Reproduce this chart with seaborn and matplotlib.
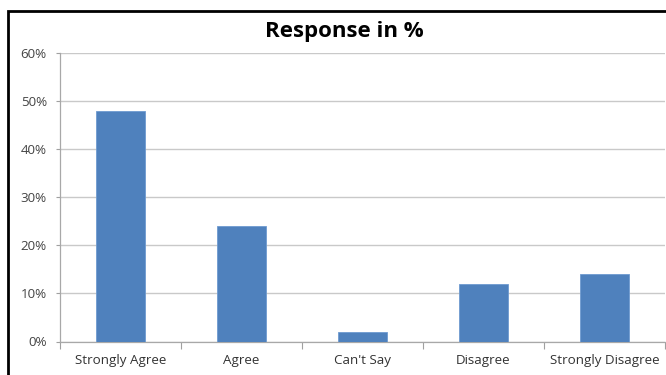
import matplotlib
matplotlib.use("Agg")
import matplotlib.pyplot as plt
import seaborn as sns
import pandas as pd
from matplotlib.patches import Rectangle
from matplotlib.ticker import FuncFormatter, FixedLocator

categories = ["Strongly Agree", "Agree", "Can't Say", "Disagree", "Strongly Disagree"]
responses = [48, 24, 2, 12, 14]
y_ticks = [0, 10, 20, 30, 40, 50, 60]

df = pd.DataFrame({"category": categories, "percent": responses})

sns.set_theme(style="white")
plt.rcParams["font.family"] = ["Open Sans", "DejaVu Sans"]

fig = plt.figure(figsize=(6.66, 3.75), dpi=100)
ax = fig.add_axes([60 / 666, 1 - 341.5 / 375, 605 / 666, (341.5 - 53) / 375])

sns.barplot(data=df, x="category", y="percent", ax=ax, width=0.4,
            color="#4F81BD", saturation=1, edgecolor="#6f9bd0", linewidth=0.6,
            zorder=3)

ax.set_xlim(-0.5, len(categories) - 0.5)
ax.set_ylim(0, 60)
ax.set_yticks(y_ticks)
ax.yaxis.set_major_formatter(FuncFormatter(lambda v, _: f"{int(v)}%"))
ax.grid(axis="y", color="#c9c9c9", linewidth=1.0, zorder=0)
ax.set_axisbelow(True)

ax.set_xlabel("")
ax.set_ylabel("")

# category boundary ticks below the axis
ax.xaxis.set_minor_locator(FixedLocator([i - 0.5 for i in range(len(categories) + 1)]))
ax.tick_params(axis="x", which="major", length=0, pad=9, labelsize=9.6, labelcolor="#333333")
ax.tick_params(axis="x", which="minor", length=5, width=0.8, color="#a0a0a0", direction="out", bottom=True)
ax.tick_params(axis="y", which="major", length=3, width=0.8, color="#a0a0a0", direction="out",
               left=True, pad=6.5, labelsize=9.6, labelcolor="#444444")

for side in ["top", "right"]:
    ax.spines[side].set_visible(False)
for side in ["left", "bottom"]:
    ax.spines[side].set_color("#a8a8a8")
    ax.spines[side].set_linewidth(0.9)

fig.text(344 / 666, 1 - 31 / 375, "Response in %", ha="center", va="center",
         fontsize=16, fontweight="bold", color="black")

# chart area frame
fig.patches.append(Rectangle((8 / 666, -0.05), 1.2, 1 - 10.5 / 375 + 0.05,
                             transform=fig.transFigure, fill=False,
                             edgecolor="black", linewidth=2, zorder=10))

fig.savefig("out.png", dpi=100)
